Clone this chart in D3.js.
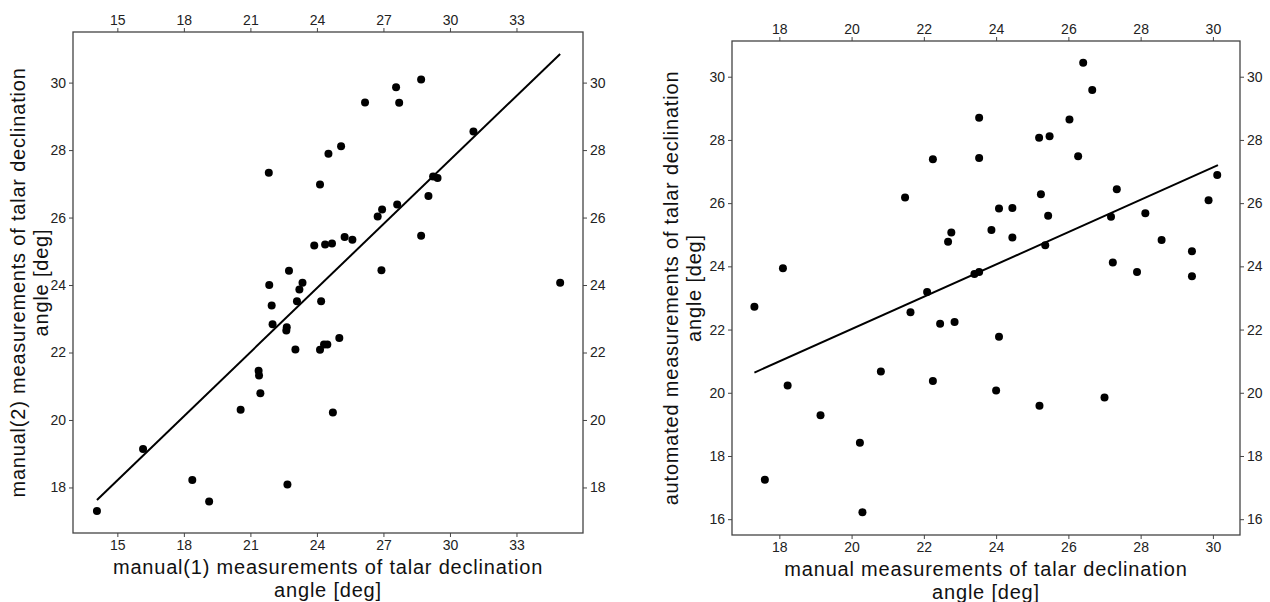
<!DOCTYPE html>
<html>
<head>
<meta charset="utf-8">
<script src="https://cdn.jsdelivr.net/npm/d3@7"></script>
<style>
  body { margin: 0; background: #fff; }
  text { font-family: "Liberation Sans", Arial, sans-serif; }
</style>
</head>
<body>
<script>
'use strict';

// left panel: manual(1) vs manual(2)
const manual1X = [21.83, 24.52, 25.09, 24.14, 23.88, 24.37, 24.68, 25.25, 22.74, 21.85,
  23.35, 23.21, 23.10, 24.19, 21.96, 22.00, 22.64, 22.62, 23.03, 24.14,
  24.32, 24.47, 25.01, 21.37, 21.39, 21.45, 20.56, 24.72, 16.16, 18.38,
  19.14, 22.67, 14.08, 28.70, 27.57, 26.17, 27.71, 31.06, 29.24, 29.44,
  29.03, 27.62, 26.94, 26.74, 25.60, 28.70, 26.91, 34.97];
const manual2Y = [27.33, 27.89, 28.11, 26.98, 25.17, 25.20, 25.23, 25.42, 24.42, 24.00,
  24.07, 23.87, 23.52, 23.52, 23.39, 22.84, 22.75, 22.65, 22.09, 22.08,
  22.24, 22.24, 22.43, 21.46, 21.32, 20.79, 20.30, 20.22, 19.14, 18.22,
  17.58, 18.09, 17.30, 30.09, 29.86, 29.41, 29.40, 28.55, 27.22, 27.17,
  26.64, 26.39, 26.24, 26.03, 25.34, 25.46, 24.44, 24.07];
const leftFitX = [14.08, 34.97];
const leftFitY = [17.63, 30.85];
const leftXTicks = [15, 18, 21, 24, 27, 30, 33];
const leftYTicks = [18, 20, 22, 24, 26, 28, 30];

// right panel: manual vs automated
const manualX = [23.53, 22.25, 23.53, 21.48, 24.08, 23.87, 22.76, 22.67, 18.10, 23.40,
  23.53, 17.31, 22.09, 21.63, 22.45, 22.85, 24.08, 20.81, 18.23, 22.25,
  24.00, 19.14, 20.23, 17.60, 20.30, 26.41, 26.66, 26.03, 25.19, 25.48,
  26.27, 30.12, 27.34, 29.88, 25.24, 24.45, 24.45, 25.44, 25.36, 27.18,
  28.13, 28.58, 29.42, 27.23, 27.90, 29.42, 25.20, 27.00];
const automatedY = [28.70, 27.39, 27.43, 26.18, 25.83, 25.15, 25.07, 24.78, 23.94, 23.76,
  23.82, 22.72, 23.19, 22.55, 22.18, 22.24, 21.77, 20.67, 20.23, 20.37,
  20.07, 19.29, 18.42, 17.25, 16.22, 30.44, 29.58, 28.65, 28.07, 28.12,
  27.48, 26.89, 26.44, 26.09, 26.28, 25.85, 24.91, 25.60, 24.67, 25.57,
  25.68, 24.83, 24.48, 24.12, 23.82, 23.69, 19.59, 19.85];
const rightFitX = [17.31, 30.14];
const rightFitY = [20.64, 27.20];
const rightXTicks = [18, 20, 22, 24, 26, 28, 30];
const rightYTicks = [16, 18, 20, 22, 24, 26, 28, 30];

const svg = d3.select('body').append('svg')
  .attr('width', 1270)
  .attr('height', 602);

function drawPanel(o) {
  let x = d3.scaleLinear().domain(o.xDomain).range([o.left, o.right]);
  let y = d3.scaleLinear().domain(o.yDomain).range([o.bottom, o.top]);
  let g = svg.append('g');

  // axes on all four sides
  let axes = [
    [d3.axisBottom(x).tickValues(o.xTicks), 'translate(0,' + o.bottom + ')'],
    [d3.axisTop(x).tickValues(o.xTicks), 'translate(0,' + o.top + ')'],
    [d3.axisLeft(y).tickValues(o.yTicks), 'translate(' + o.left + ',0)'],
    [d3.axisRight(y).tickValues(o.yTicks), 'translate(' + o.right + ',0)']
  ];
  axes.forEach(([ax, tr]) => {
    let a = g.append('g').attr('transform', tr)
      .call(ax.tickSize(4).tickPadding(3).tickFormat(d3.format('d')));
    a.select('.domain').remove();
    a.selectAll('line').attr('stroke', '#444');
    a.selectAll('text').attr('fill', '#222').style('font-size', '14px')
      .style('font-family', '"Liberation Sans", Arial, sans-serif');
  });

  g.append('rect')
    .attr('x', o.left).attr('y', o.top)
    .attr('width', o.right - o.left).attr('height', o.bottom - o.top)
    .attr('fill', 'none').attr('stroke', '#444').attr('stroke-width', 1.3);

  // regression line
  let fit = o.fitX.map((v, i) => [v, o.fitY[i]]);
  g.append('path')
    .datum(fit)
    .attr('d', d3.line().x(d => x(d[0])).y(d => y(d[1])))
    .attr('stroke', '#000').attr('stroke-width', 2).attr('fill', 'none');

  g.selectAll('.dot')
    .data(o.xs.map((v, i) => [v, o.ys[i]]))
    .enter()
    .append('circle')
      .attr('cx', d => x(d[0]))
      .attr('cy', d => y(d[1]))
      .attr('r', 4)
      .attr('fill', '#000');

  // axis titles
  let cx = (o.left + o.right) / 2;
  let xt = g.append('text')
    .attr('text-anchor', 'middle')
    .style('font-size', '20px').style('letter-spacing', '0.8px')
    .attr('fill', '#111');
  xt.append('tspan').attr('x', cx).attr('y', o.bottom + 41).text(o.xTitle);
  xt.append('tspan').attr('x', cx).attr('y', o.bottom + 64).text('angle [deg]');

  let cy = (o.top + o.bottom) / 2;
  let yt = g.append('text')
    .attr('text-anchor', 'middle')
    .attr('transform', 'translate(' + o.yTitleX + ',' + cy + ')rotate(-90)')
    .style('font-size', '20px').style('letter-spacing', '0.8px')
    .attr('fill', '#111');
  yt.append('tspan').attr('x', 0).attr('y', 0).text(o.yTitle);
  yt.append('tspan').attr('x', 0).attr('y', 23).text('angle [deg]');
}

drawPanel({
  left: 73, right: 583, top: 32, bottom: 533,
  xDomain: [13, 36], yDomain: [16.65, 31.5],
  xTicks: leftXTicks, yTicks: leftYTicks,
  xs: manual1X, ys: manual2Y, fitX: leftFitX, fitY: leftFitY,
  xTitle: 'manual(1) measurements of talar declination',
  yTitle: 'manual(2) measurements of talar declination',
  yTitleX: 25
});

drawPanel({
  left: 732, right: 1240, top: 41, bottom: 535,
  xDomain: [16.69, 30.75], yDomain: [15.5, 31.13],
  xTicks: rightXTicks, yTicks: rightYTicks,
  xs: manualX, ys: automatedY, fitX: rightFitX, fitY: rightFitY,
  xTitle: 'manual measurements of talar declination',
  yTitle: 'automated measurements of talar declination',
  yTitleX: 678
});
</script>
</body>
</html>
